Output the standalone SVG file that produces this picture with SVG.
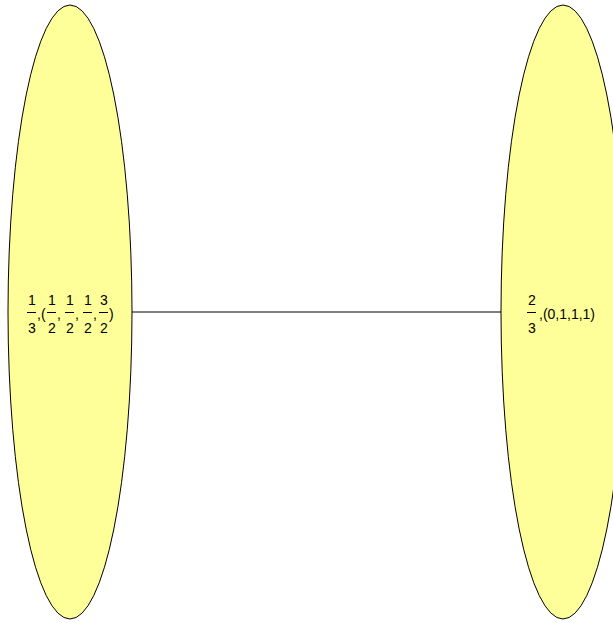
<svg xmlns="http://www.w3.org/2000/svg" width="613" height="623" viewBox="0 0 613 623">
<style>
.node{fill:#ffff99;stroke:#000;stroke-width:1}
.edge{stroke:#000;stroke-width:1;fill:none}
text{font-family:"Liberation Sans",Arial,sans-serif;font-size:14px;fill:#000}
.bar{stroke:#000;stroke-width:1}
</style>
<rect width="613" height="623" fill="#fff"/>
<g id="connectors">
<line class="edge" x1="132" y1="312" x2="501" y2="312"/>
</g>
<g id="node-left">
<ellipse class="node" cx="70" cy="312" rx="62" ry="307"/>
<text x="28" y="305">1</text>
<line class="bar" x1="27" y1="312.5" x2="36" y2="312.5"/>
<text x="28" y="333">3</text>
<text x="37" y="319">,(</text>
<text x="48" y="305">1</text>
<line class="bar" x1="47" y1="312.5" x2="56" y2="312.5"/>
<text x="48" y="333">2</text>
<text x="57" y="319">,</text>
<text x="66" y="305">1</text>
<line class="bar" x1="65" y1="312.5" x2="74" y2="312.5"/>
<text x="66" y="333">2</text>
<text x="75" y="319">,</text>
<text x="84" y="305">1</text>
<line class="bar" x1="83" y1="312.5" x2="92" y2="312.5"/>
<text x="84" y="333">2</text>
<text x="93" y="319">,</text>
<text x="100" y="305">3</text>
<line class="bar" x1="99" y1="312.5" x2="108" y2="312.5"/>
<text x="100" y="333">2</text>
<text x="109" y="319">)</text>
</g>
<g id="node-right">
<ellipse class="node" cx="563" cy="312" rx="62" ry="307"/>
<text x="528" y="305">2</text>
<line class="bar" x1="527" y1="312.5" x2="536" y2="312.5"/>
<text x="528" y="333">3</text>
<text x="539" y="319">,(0,1,1,1)</text>
</g>
</svg>
